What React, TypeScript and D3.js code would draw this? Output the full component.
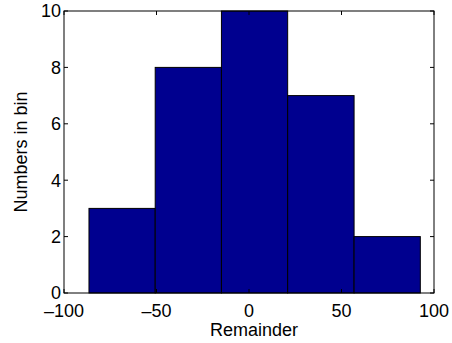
import * as d3 from 'd3'

// bin edges and counts
const binEdges = [-86.5, -50.7, -14.9, 20.9, 56.8, 92.6]
const binCounts = [3, 8, 10, 7, 2]
const xTicks = [-100, -50, 0, 50, 100]
const yTicks = [0, 2, 4, 6, 8, 10]

const W = 452
const H = 343
const left = 64
const right = 434
const top = 11
const bottom = 293
const font = '"Liberation Sans", Arial, Helvetica, sans-serif'
const fs = 18

const fmt = (v: number) => (v < 0 ? '\u2013' + Math.abs(v) : String(v))

export default function App() {
  const x = d3.scaleLinear().domain([-100, 100]).range([left, right])
  const y = d3.scaleLinear().domain([0, 10]).range([bottom, top])
  const tickLen = 4

  const bars = binCounts.map((c, i) => ({ x0: binEdges[i], x1: binEdges[i + 1], c }))

  return (
    <svg width={W} height={H} style={{ position: 'absolute', left: 0, top: 0 }}>
      <rect x={0} y={0} width={W} height={H} fill="#fff" />
      {bars.map((b, i) => (
        <rect
          key={i}
          x={x(b.x0)}
          y={y(b.c)}
          width={x(b.x1) - x(b.x0)}
          height={y(0) - y(b.c)}
          fill="#00008f"
          stroke="#000"
          strokeWidth={1}
        />
      ))}
      {xTicks.map(t => (
        <g key={'x' + t}>
          <line x1={x(t)} x2={x(t)} y1={bottom} y2={bottom - tickLen} stroke="#000" />
          <line x1={x(t)} x2={x(t)} y1={top} y2={top + tickLen} stroke="#000" />
          <text x={x(t)} y={317} textAnchor="middle" fontFamily={font} fontSize={fs}>
            {fmt(t)}
          </text>
        </g>
      ))}
      {yTicks.map(t => (
        <g key={'y' + t}>
          <line x1={left} x2={left + tickLen} y1={y(t)} y2={y(t)} stroke="#000" />
          <line x1={right} x2={right - tickLen} y1={y(t)} y2={y(t)} stroke="#000" />
          <text x={61} y={y(t)} dy="0.36em" textAnchor="end" fontFamily={font} fontSize={fs}>
            {t}
          </text>
        </g>
      ))}
      <rect x={left} y={top} width={right - left} height={bottom - top} fill="none" stroke="#000" strokeWidth={1} />
      <text x={(left + right) / 2 + 5} y={336} textAnchor="middle" fontFamily={font} fontSize={fs}>
        Remainder
      </text>
      <text
        transform={`translate(27,${(top + bottom) / 2}) rotate(-90)`}
        textAnchor="middle"
        fontFamily={font}
        fontSize={fs}
      >
        Numbers in bin
      </text>
    </svg>
  )
}
